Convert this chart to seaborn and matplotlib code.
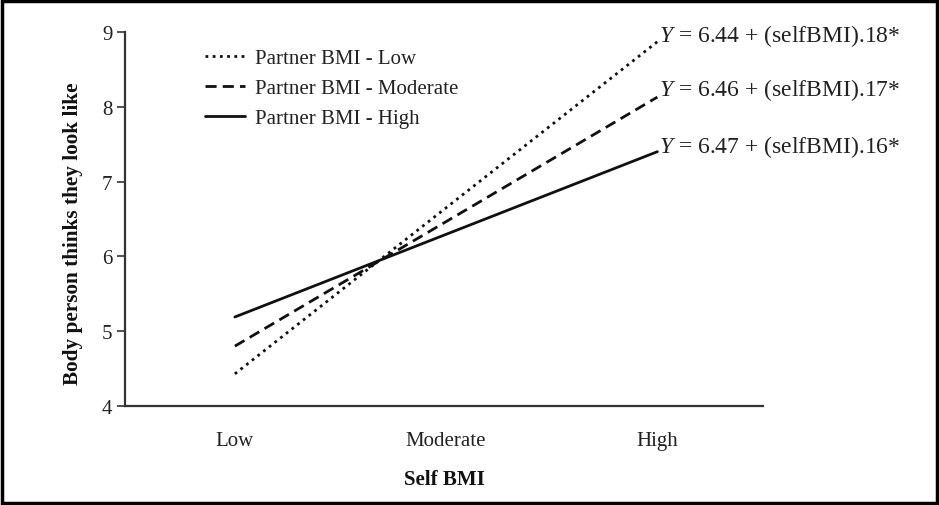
import matplotlib
matplotlib.use("Agg")
import matplotlib.pyplot as plt
import seaborn as sns
import pandas as pd
from matplotlib.patches import Rectangle

sns.set_theme(style="white")
plt.rcParams["font.family"] = ["Liberation Serif", "DejaVu Serif"]
plt.rcParams["mathtext.fontset"] = "custom"
plt.rcParams["mathtext.rm"] = "Liberation Serif"
plt.rcParams["mathtext.it"] = "Liberation Serif:italic"

categories = ["Low", "Moderate", "High"]
end_points = ["Low", "High"]
series = ["Partner BMI - Low", "Partner BMI - Moderate", "Partner BMI - High"]
values_low = [4.43, 8.87]
values_moderate = [4.80, 8.13]
values_high = [5.19, 7.40]
equations = ["6.44 + (selfBMI).18*", "6.46 + (selfBMI).17*", "6.47 + (selfBMI).16*"]

rows = []
for s, vals in zip(series, [values_low, values_moderate, values_high]):
    for c, v in zip(end_points, vals):
        rows.append({"series": s, "x": categories.index(c), "y": v})
df = pd.DataFrame(rows)

FS = 15

fig = plt.figure(figsize=(9.39, 5.06), dpi=100)
ax = fig.add_axes([125 / 939, 1 - 407 / 506, (763 - 125) / 939, (407 - 33) / 506])

styles = {series[0]: (0, (1, 1.6)), series[1]: (0, (4, 2.2)), series[2]: "-"}
for s in series:
    sub = df[df["series"] == s]
    sns.lineplot(data=sub, x="x", y="y", ax=ax, color="#111111", lw=2.0,
                 linestyle=styles[s], label=s)

ax.set_xlim(-0.52, 2.5)
ax.set_ylim(4, 9)
ax.set_xticks(range(len(categories)))
ax.set_xticklabels(categories)
ax.set_yticks([4, 5, 6, 7, 8, 9])
for sp in ["top", "right"]:
    ax.spines[sp].set_visible(False)
for sp in ["left", "bottom"]:
    ax.spines[sp].set_color("#333333")
    ax.spines[sp].set_linewidth(1.6)
ax.tick_params(axis="y", which="both", left=True, length=6, width=1.2, color="#333333",
               labelsize=FS, pad=3, labelcolor="#222222")
ax.tick_params(axis="x", which="both", bottom=False, labelsize=FS, pad=12, labelcolor="#222222")
ax.set_xlabel("Self BMI", fontsize=FS, fontweight="bold", labelpad=14, color="#111111")
ax.set_ylabel("Body person thinks they look like", fontsize=15.3, fontweight="bold",
              color="#111111")
ax.yaxis.set_label_coords(-0.066, 0.463)

leg = ax.legend(loc="upper left", bbox_to_anchor=(0.125, 0.955), frameon=False,
                fontsize=FS, handlelength=1.95, handletextpad=0.45, labelspacing=0.5,
                borderaxespad=0, borderpad=0)
for t in leg.get_texts():
    t.set_color("#222222")

ypos = [8.96, 8.24, 7.47]
for eq, yv in zip(equations, ypos):
    ax.text(2.01, yv, r"$Y$ = " + eq, fontsize=17, color="#222222",
            ha="left", va="center", clip_on=False)

fig.patches.append(Rectangle((0.002, 0.003), 0.996, 0.994, transform=fig.transFigure,
                             fill=False, edgecolor="black", lw=2.5))

fig.savefig("out.png", dpi=100, facecolor="white")
